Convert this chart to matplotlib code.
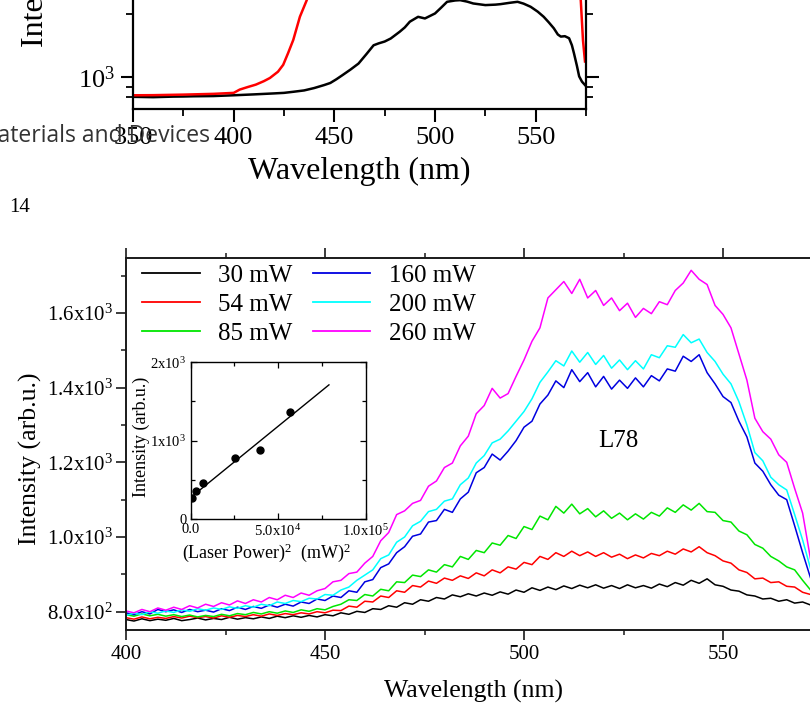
import numpy as np
import matplotlib
matplotlib.use("Agg")
import matplotlib.pyplot as plt
from matplotlib.ticker import FixedLocator, MultipleLocator, NullFormatter

plt.rcParams['font.family'] = ['Liberation Serif', 'DejaVu Serif']
plt.rcParams['mathtext.fontset'] = 'custom'
plt.rcParams['mathtext.rm'] = 'Liberation Serif'
plt.rcParams['mathtext.it'] = 'Liberation Serif:italic'

# ---------------- main chart data (L78) ----------------
wavelength = list(range(400, 577, 2))

p30 = [779, 775, 781, 776, 780, 777, 782, 776, 779, 783,
       778, 782, 779, 785, 780, 784, 781, 786, 782, 788,
       784, 789, 785, 790, 786, 792, 789, 797, 793, 801,
       798, 808, 806, 816, 812, 824, 820, 832, 828, 838,
       834, 845, 840, 848, 842, 850, 844, 853, 847, 858,
       852, 864, 857, 866, 859, 869, 862, 871, 864, 872,
       863, 870, 862, 872, 864, 870, 863, 874, 867, 878,
       871, 884, 876, 888, 872, 868, 858, 855, 845, 842,
       834, 836, 828, 832, 823, 826, 818, 820, 814]

p54 = [784, 780, 786, 781, 785, 782, 787, 783, 788, 784,
       787, 783, 789, 785, 790, 787, 792, 788, 794, 790,
       795, 792, 797, 794, 800, 797, 804, 803, 815, 812,
       828, 826, 842, 838, 856, 852, 870, 866, 882, 876,
       890, 884, 896, 889, 904, 896, 912, 904, 920, 914,
       932, 926, 948, 940, 958, 948, 962, 950, 960, 948,
       958, 946, 954, 942, 952, 944, 956, 950, 962, 954,
       968, 960, 974, 958, 950, 936, 930, 912, 905, 888,
       890, 878, 880, 868, 866, 852, 846, 836, 830]

p85 = [792, 788, 794, 789, 793, 788, 792, 787, 791, 786,
       790, 787, 793, 789, 795, 792, 798, 794, 800, 796,
       802, 798, 805, 801, 808, 805, 814, 820, 832, 830,
       846, 842, 860, 856, 880, 878, 898, 894, 912, 906,
       926, 920, 948, 940, 964, 958, 984, 978, 1004, 996,
       1028, 1020, 1056, 1046, 1082, 1064, 1088, 1062, 1076, 1054,
       1070, 1050, 1064, 1046, 1062, 1048, 1066, 1056, 1078, 1066,
       1086, 1072, 1090, 1068, 1066, 1044, 1040, 1016, 1006, 980,
       970, 948, 936, 920, 912, 884, 858, 842, 835]

p160 = [797, 792, 800, 794, 806, 800, 805, 798, 806, 800,
        804, 799, 808, 803, 812, 806, 814, 809, 818, 812,
        820, 815, 826, 822, 834, 830, 842, 838, 856, 852,
        880, 886, 918, 928, 958, 974, 1002, 1008, 1040, 1044,
        1074, 1066, 1102, 1120, 1172, 1186, 1222, 1206, 1230, 1258,
        1294, 1310, 1356, 1380, 1418, 1400, 1448, 1416, 1440, 1402,
        1430, 1396, 1420, 1398, 1426, 1402, 1432, 1418, 1450, 1444,
        1484, 1470, 1488, 1440, 1410, 1376, 1360, 1310, 1268, 1198,
        1176, 1140, 1112, 1100, 1030, 958, 890, 852, 826]

p200 = [790, 796, 792, 800, 796, 802, 798, 805, 801, 808,
        804, 810, 806, 813, 809, 816, 812, 820, 816, 826,
        822, 830, 827, 836, 834, 846, 844, 858, 866, 884,
        898, 912, 942, 952, 986, 1000, 1030, 1042, 1068, 1074,
        1096, 1102, 1140, 1158, 1198, 1218, 1252, 1262, 1284, 1310,
        1336, 1370, 1414, 1442, 1472, 1458, 1498, 1468, 1494, 1462,
        1486, 1452, 1474, 1448, 1472, 1450, 1488, 1480, 1512, 1508,
        1542, 1520, 1530, 1494, 1470, 1436, 1410, 1362, 1300, 1226,
        1204, 1160, 1140, 1126, 1060, 992, 915, 870, 846]

p260 = [802, 797, 806, 800, 810, 804, 812, 806, 816, 810,
        820, 814, 824, 818, 829, 822, 832, 826, 838, 832,
        844, 838, 850, 844, 856, 862, 880, 884, 902, 906,
        930, 948, 990, 1012, 1060, 1070, 1090, 1098, 1136, 1150,
        1186, 1198, 1244, 1270, 1330, 1352, 1398, 1372, 1384, 1430,
        1474, 1524, 1560, 1640, 1662, 1684, 1652, 1690, 1640, 1660,
        1620, 1640, 1606, 1626, 1588, 1612, 1598, 1630, 1622, 1660,
        1680, 1714, 1690, 1676, 1620, 1596, 1560, 1490, 1420, 1318,
        1282, 1262, 1220, 1200, 1130, 1064, 940, 880, 852]

series_labels = ['30 mW', '54 mW', '85 mW', '160 mW', '200 mW', '260 mW']
series_colors = ['#000000', '#ff0000', '#00e600', '#0000e0', '#00ffff', '#ff00ff']
series_values = [p30, p54, p85, p160, p200, p260]

main_yticks = [800, 1000, 1200, 1400, 1600]
main_yticklabels = [r'$\mathregular{8.0x10^{2}}$', r'$\mathregular{1.0x10^{3}}$',
                    r'$\mathregular{1.2x10^{3}}$', r'$\mathregular{1.4x10^{3}}$',
                    r'$\mathregular{1.6x10^{3}}$']
main_xticks = [400, 450, 500, 550]

# ---------------- inset data ----------------
power_sq = [950, 2860, 7050, 25100, 39400, 57000]
inset_intensity = [264, 357, 464, 783, 877, 1362]
fit_x = [0, 79000]
fit_y = [275, 1712]
inset_xticks = [0, 50000, 100000]
inset_xticklabels = ['0.0', r'$\mathregular{5.0x10^{4}}$', r'$\mathregular{1.0x10^{5}}$']
inset_yticks = [0, 1000, 2000]
inset_yticklabels = ['0', r'$\mathregular{1x10^{3}}$', r'$\mathregular{2x10^{3}}$']

# ---------------- top (cut) chart data ----------------
top_black_wl = [350, 360, 370, 375, 380, 390, 400, 410, 420, 425, 430, 435, 440, 445, 448,
                451, 454, 458, 462, 466, 469.5, 472, 475, 478, 482.5, 485, 487.5, 491.6, 495,
                500, 503, 506, 510, 512.5, 516, 519, 525, 530, 532.5, 537, 541, 544, 547.5,
                551, 554, 556.5, 559, 561, 562.5, 564.5, 566.6, 568, 569, 570.5, 571.6, 573, 574.5]
top_black_int = [803, 800, 805, 806, 808, 810, 817, 825, 834, 839, 850, 862, 885, 915, 936,
                 975, 1020, 1085, 1160, 1290, 1420, 1450, 1480, 1530, 1650, 1730, 1843, 1945, 1910,
                 2018, 2150, 2296, 2330, 2338, 2300, 2254, 2214, 2225, 2237, 2270, 2296, 2250, 2173,
                 2060, 1945, 1830, 1714, 1600, 1563, 1570, 1535, 1420, 1302, 1130, 1007, 950, 915]
top_red_wl = [350, 360, 375, 390, 400, 403, 407, 411, 415, 418, 422, 424.6, 427, 429.6,
              432.9, 436.3, 440, 445, 450, 460, 480, 500, 520, 540, 560, 568, 571, 572.4,
              573.5, 574.5]
top_red_int = [817, 818, 823, 830, 839, 870, 895, 919, 955, 989, 1060, 1144, 1300, 1506,
               1947, 2338, 3200, 4500, 6000, 9000, 12000, 15000, 16000, 15000, 10000, 5000,
               3000, 2338, 1500, 1187]
top_xticks = [350, 400, 450, 500, 550]

W, H = 810, 705
fig = plt.figure(figsize=(W / 100, H / 100), dpi=100)


def px_box(left, top, right, bottom):
    return [left / W, 1 - bottom / H, (right - left) / W, (bottom - top) / H]


ink = '#1a1a1a'

# ================= top cut chart =================
axt = fig.add_axes(px_box(133, -68.6, 586, 109))
axt.plot(top_black_wl, top_black_int, color='black', lw=1.8)
axt.plot(top_red_wl, top_red_int, color='#ff0000', lw=1.8)
axt.set_yscale('log')
axt.set_xlim(350, 575)
axt.set_ylim(702, 5000)
axt.set_xticks(top_xticks)
axt.set_xticklabels([str(v) for v in top_xticks])
axt.xaxis.set_minor_locator(MultipleLocator(25))
axt.yaxis.set_major_locator(FixedLocator([1000]))
axt.set_yticklabels([r'$\mathregular{10^{3}}$'])
axt.yaxis.set_minor_locator(FixedLocator([800, 900, 2000, 3000, 4000]))
axt.yaxis.set_minor_formatter(NullFormatter())
axt.tick_params(axis='both', which='major', direction='out', length=9, width=1.5,
                labelsize=19, pad=4, colors='black')
axt.tick_params(axis='both', which='minor', direction='out', length=5, width=1.3)
axt.tick_params(axis='y', which='both', right=True)
for s in axt.spines.values():
    s.set_linewidth(1.6)
    s.set_color('black')
axt.set_xlabel('Wavelength (nm)', fontsize=23)
axt.xaxis.set_label_coords(0.5, -0.352)
axt.xaxis.label.set_va('center')
fig.text(35 / W, 1 - 47 / H, 'Intensity (arb.u.)', rotation=90, fontsize=23,
         ha='center', va='bottom')

fig.text(210 / W, 1 - 142 / H, 'Materials and Devices', family=['Open Sans', 'DejaVu Sans'],
         fontsize=16.5, color='#333333', ha='right', va='baseline')
fig.text(20 / W, 1 - 207 / H, '14', fontsize=15, ha='center', va='center')

# ================= main chart =================
ax = fig.add_axes(px_box(126, 258, 826.5, 630))
for vals, lab, col in zip(series_values, series_labels, series_colors):
    ax.plot(wavelength, vals, color=col, lw=1.1, label=lab)
ax.set_xlim(400, 576)
ax.set_ylim(751, 1747)
ax.set_xticks(main_xticks)
ax.set_xticklabels([str(v) for v in main_xticks])
ax.xaxis.set_minor_locator(MultipleLocator(25))
ax.set_yticks(main_yticks)
ax.set_yticklabels(main_yticklabels)
ax.yaxis.set_minor_locator(MultipleLocator(100))
ax.tick_params(axis='both', which='major', direction='out', length=7, width=1.2,
               labelsize=15, pad=4, colors=ink, labelcolor='black')
ax.tick_params(axis='y', which='major', pad=2)
ax.tick_params(axis='both', which='minor', direction='out', length=3.5, width=1.1, colors=ink)
ax.tick_params(axis='x', which='both', top=True)
for s in ax.spines.values():
    s.set_linewidth(1.4)
    s.set_color(ink)
ax.set_xlabel('Wavelength (nm)', fontsize=18.5)
ax.xaxis.set_label_coords(0.496, -0.165)
ax.xaxis.label.set_va('center')
ax.set_ylabel('Intensity (arb.u.)', fontsize=18.5)
ax.yaxis.set_label_coords(-0.137, 0.46)
ax.yaxis.label.set_va('center')
ax.text(523.6, 1257, 'L78', fontsize=18, ha='center', va='center')

leg = ax.legend(ncol=2, frameon=False, fontsize=18, handlelength=2.3, handletextpad=0.75,
                columnspacing=0.8, labelspacing=0.27, borderpad=0, borderaxespad=0,
                loc='upper left', bbox_to_anchor=(142 / W, 1 - 264 / H),
                bbox_transform=fig.transFigure)
for ln in leg.get_lines():
    ln.set_linewidth(1.3)

# ================= inset =================
axi = fig.add_axes(px_box(190.7, 362.3, 365.7, 519))
axi.plot(fit_x, fit_y, color='black', lw=1.0)
axi.plot(power_sq, inset_intensity, 'o', color='black', ms=5)
axi.set_xlim(0, 100000)
axi.set_ylim(0, 2000)
axi.set_xticks(inset_xticks)
axi.set_xticklabels(inset_xticklabels)
axi.set_yticks(inset_yticks)
axi.set_yticklabels(inset_yticklabels)
axi.xaxis.set_minor_locator(MultipleLocator(25000))
axi.yaxis.set_minor_locator(MultipleLocator(500))
axi.tick_params(axis='both', which='both', direction='in', top=True, right=True,
                width=0.9, labelsize=10.5, pad=3)
axi.tick_params(axis='both', which='major', length=4)
axi.tick_params(axis='both', which='minor', length=3)
for s in axi.spines.values():
    s.set_linewidth(1.0)
axi.set_xlabel(r'(Laser Power)$^\mathregular{2}$  (mW)$^\mathregular{2}$', fontsize=13)
axi.xaxis.set_label_coords(0.436, -0.217)
axi.xaxis.label.set_va('center')
axi.set_ylabel('Intensity (arb.u.)', fontsize=13)
axi.yaxis.set_label_coords(-0.28, 0.523)
axi.yaxis.label.set_va('center')

fig.savefig('out.png', dpi=100)
